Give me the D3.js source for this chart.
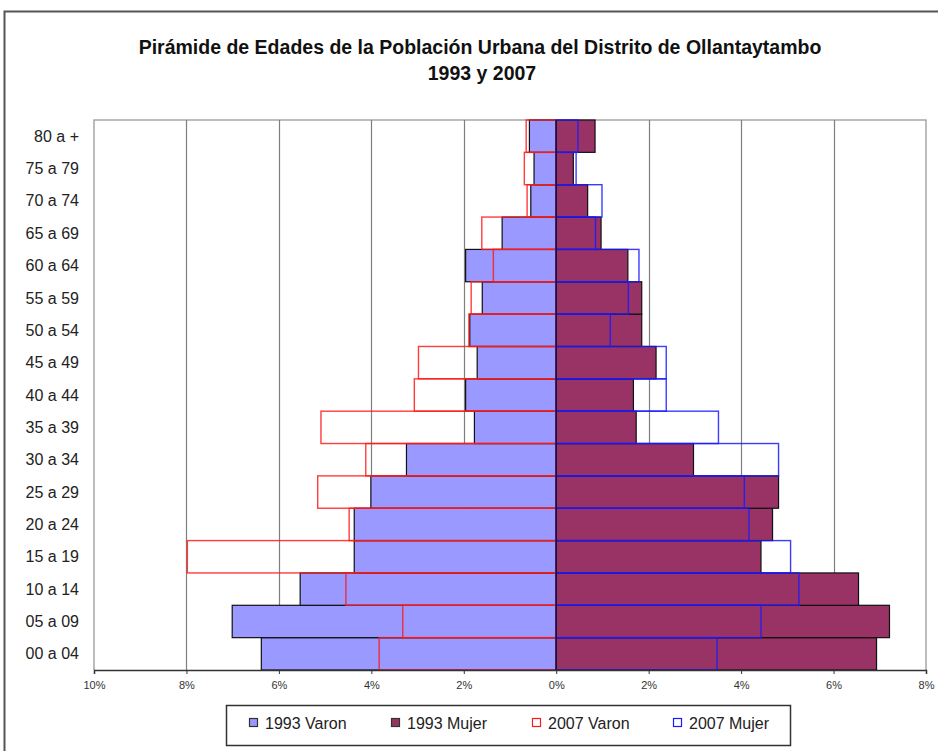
<!DOCTYPE html>
<html>
<head>
<meta charset="utf-8">
<script src="https://cdn.jsdelivr.net/npm/d3@7"></script>
<style>
  html, body { margin: 0; padding: 0; background: #fff; }
  svg { display: block; font-family: "Liberation Sans", Arial, sans-serif; }
</style>
</head>
<body>
<svg id="chart" width="938" height="751"></svg>
<script>
// Age groups, youngest to oldest
const categories = ["00 a 04","05 a 09","10 a 14","15 a 19","20 a 24","25 a 29","30 a 34","35 a 39","40 a 44","45 a 49","50 a 54","55 a 59","60 a 64","65 a 69","70 a 74","75 a 79","80 a +"];
// Percent of population
const varon1993 = [6.38, 7.01, 5.54, 4.37, 4.37, 4.01, 3.24, 1.77, 1.96, 1.71, 1.87, 1.60, 1.96, 1.17, 0.55, 0.48, 0.58];
const mujer1993 = [6.93, 7.21, 6.54, 4.43, 4.68, 4.81, 2.97, 1.73, 1.67, 2.16, 1.85, 1.85, 1.55, 0.97, 0.68, 0.37, 0.84];
const varon2007 = [3.83, 3.32, 4.55, 7.98, 4.48, 5.16, 4.12, 5.09, 3.07, 2.98, 1.89, 1.84, 1.36, 1.61, 0.63, 0.69, 0.65];
const mujer2007 = [3.48, 4.43, 5.25, 5.07, 4.17, 4.07, 4.81, 3.51, 2.38, 2.38, 1.17, 1.56, 1.79, 0.85, 0.99, 0.43, 0.47];
const xTicks = [-10, -8, -6, -4, -2, 0, 2, 4, 6, 8];
const seriesNames = ["1993 Varon", "1993 Mujer", "2007 Varon", "2007 Mujer"];
const titleLines = ["Pirámide de Edades de la Población Urbana del Distrito de Ollantaytambo", "1993 y 2007"];

const svg = d3.select("#chart");
const L = 94, R = 926, T = 120, B = 670;

// outer chart border
svg.append("path")
  .attr("d", `M4.5,760 L4.5,11.5 L945,11.5`)
  .attr("fill", "none").attr("stroke", "#555").attr("stroke-width", 2);

// title
svg.append("text").attr("x", 480).attr("y", 54)
  .attr("text-anchor", "middle").attr("font-weight", "bold").attr("font-size", 19.5).attr("fill", "#111")
  .text(titleLines[0]);
svg.append("text").attr("x", 482).attr("y", 80)
  .attr("text-anchor", "middle").attr("font-weight", "bold").attr("font-size", 19.5).attr("fill", "#111")
  .text(titleLines[1]);

const x = d3.scaleLinear().domain([-10, 8]).range([L, R]);
const y = d3.scaleBand().domain(categories.slice().reverse()).range([T, B]).padding(0);

// plot border (top/left/right)
svg.append("path")
  .attr("d", `M${L},${B} L${L},${T} L${R},${T} L${R},${B}`)
  .attr("fill", "none").attr("stroke", "#a6a6a6").attr("stroke-width", 1.5);

// gridlines
svg.append("g").selectAll("line")
  .data(xTicks.filter(d => d !== -10 && d !== 8 && d !== 0))
  .join("line")
  .attr("x1", d => Math.round(x(d)) + 0.5).attr("x2", d => Math.round(x(d)) + 0.5)
  .attr("y1", T).attr("y2", B)
  .attr("stroke", "#7f7f7f").attr("stroke-width", 1.2);

const idx = d3.range(categories.length);

// 1993 Varon
svg.append("g").selectAll("rect").data(idx).join("rect")
  .attr("x", i => x(-varon1993[i]))
  .attr("width", i => x(0) - x(-varon1993[i]))
  .attr("y", i => y(categories[i]))
  .attr("height", y.bandwidth())
  .attr("fill", "#9999FF").attr("stroke", "#111").attr("stroke-width", 1.2);

// 1993 Mujer
svg.append("g").selectAll("rect").data(idx).join("rect")
  .attr("x", x(0))
  .attr("width", i => x(mujer1993[i]) - x(0))
  .attr("y", i => y(categories[i]))
  .attr("height", y.bandwidth())
  .attr("fill", "#993366").attr("stroke", "#111").attr("stroke-width", 1.2);

// 2007 Varon (outline)
svg.append("g").selectAll("rect").data(idx).join("rect")
  .attr("x", i => x(-varon2007[i]))
  .attr("width", i => x(0) - x(-varon2007[i]))
  .attr("y", i => y(categories[i]))
  .attr("height", y.bandwidth())
  .attr("fill", "none").attr("stroke", "#ff1a1a").attr("stroke-width", 1.4).attr("stroke-opacity", 0.85);

// 2007 Mujer (outline)
svg.append("g").selectAll("rect").data(idx).join("rect")
  .attr("x", x(0))
  .attr("width", i => x(mujer2007[i]) - x(0))
  .attr("y", i => y(categories[i]))
  .attr("height", y.bandwidth())
  .attr("fill", "none").attr("stroke", "#1a1aff").attr("stroke-width", 1.4).attr("stroke-opacity", 0.85);

// zero line
svg.append("line").attr("x1", x(0)).attr("x2", x(0)).attr("y1", T).attr("y2", B)
  .attr("stroke", "#111").attr("stroke-width", 1.2);

// y labels
svg.append("g").selectAll("text").data(categories).join("text")
  .attr("x", 79).attr("y", d => y(d) + y.bandwidth() / 2)
  .attr("dy", "0.35em").attr("text-anchor", "end")
  .attr("font-size", 16).attr("fill", "#222")
  .text(d => d);

// x axis
const xAxis = d3.axisBottom(x).tickValues(xTicks).tickSize(4).tickFormat(d => Math.abs(d) + "%");
const gx = svg.append("g").attr("transform", `translate(0,${B})`).call(xAxis);
gx.select(".domain").attr("stroke", "#333").attr("stroke-width", 1.5);
gx.selectAll(".tick line").attr("stroke", "#333");
gx.selectAll(".tick text").attr("font-size", 11).attr("fill", "#333")
  .attr("font-family", "'Liberation Sans', Arial, sans-serif").attr("y", 11);

// legend
svg.append("rect").attr("x", 226.5).attr("y", 705.5).attr("width", 564).attr("height", 40)
  .attr("fill", "#fff").attr("stroke", "#333").attr("stroke-width", 1.5);
const legendX = [249, 391, 532, 673];
const legendStyle = [
  { fill: "#9999FF", stroke: "#333" },
  { fill: "#993366", stroke: "#333" },
  { fill: "#fff", stroke: "#ff1a1a" },
  { fill: "#fff", stroke: "#1a1aff" }
];
const lg = svg.append("g").selectAll("g").data(seriesNames).join("g")
  .attr("transform", (d, i) => `translate(${legendX[i]},723)`);
lg.append("rect").attr("x", 0.5).attr("y", -4.5).attr("width", 8).attr("height", 8)
  .attr("fill", (d, i) => legendStyle[i].fill).attr("stroke", (d, i) => legendStyle[i].stroke).attr("stroke-width", 1.2);
lg.append("text").attr("x", 16).attr("dy", "0.35em").attr("font-size", 16).attr("fill", "#222")
  .text(d => d);
</script>
</body>
</html>
